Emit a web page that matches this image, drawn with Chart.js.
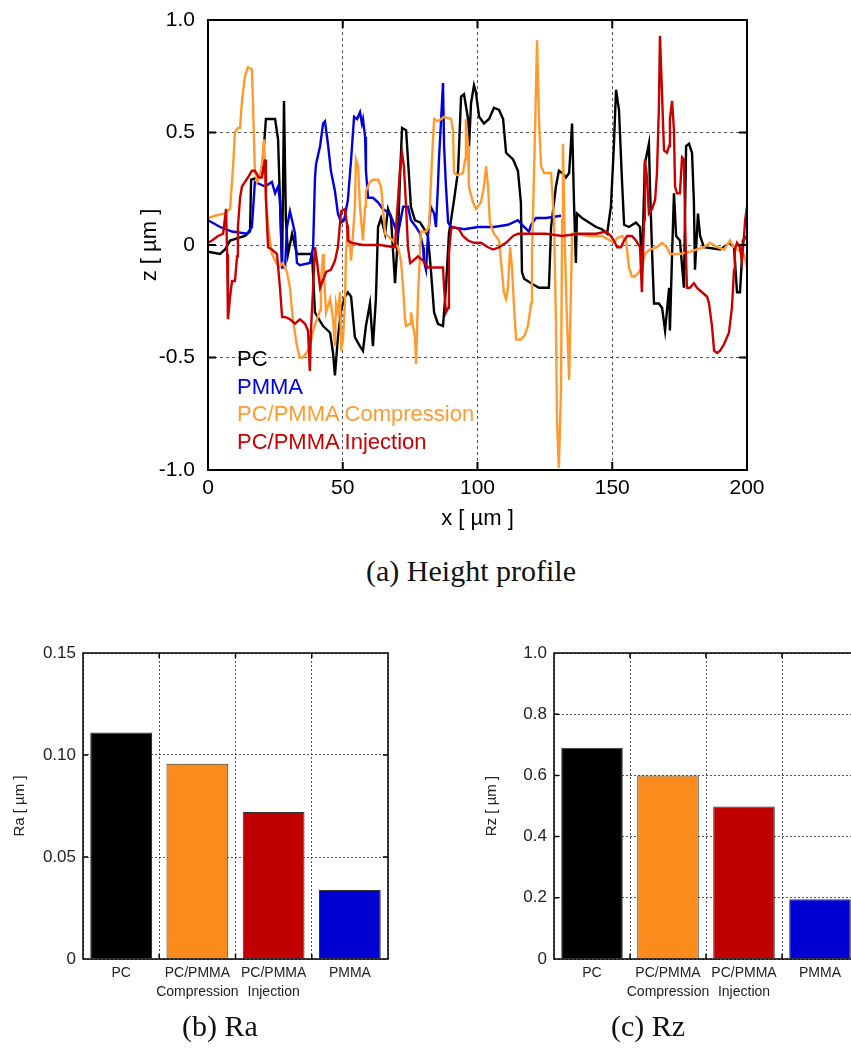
<!DOCTYPE html>
<html>
<head>
<meta charset="utf-8">
<script src="https://cdn.jsdelivr.net/npm/chart.js@4.4.0/dist/chart.umd.min.js"></script>
<style>
  html, body { margin: 0; padding: 0; background: #fff; width: 851px; height: 1048px; overflow: hidden; }
  canvas { position: absolute; }
  .cap { position: absolute; font-family: "Liberation Serif", "Times New Roman", serif; font-size: 30px; line-height: 33px; color: #111; text-align: center; white-space: nowrap; }
  .leg { position: absolute; left: 237px; top: 345px; font-family: "Liberation Sans", Arial, sans-serif; font-size: 22px; line-height: 27.7px; white-space: nowrap; }
</style>
</head>
<body>
<canvas id="profile" width="851" height="540" style="left:0;top:0"></canvas>
<div class="leg" id="legend"></div>
<div class="cap" style="left:271px;top:554px;width:400px">(a) Height profile</div>
<canvas id="raChart" width="420" height="380" style="left:0;top:630px"></canvas>
<canvas id="rzChart" width="460" height="380" style="left:430px;top:630px"></canvas>
<div class="cap" style="left:120px;top:1009px;width:200px">(b) Ra</div>
<div class="cap" style="left:548px;top:1009px;width:200px">(c) Rz</div>

<script>
// -----------------------------
// Data
// -----------------------------
const xTicks = [0, 50, 100, 150, 200];
const zTicks = [-1.0, -0.5, 0, 0.5, 1.0];

// PC
const pcX = [0,4.5,6.3,8.2,13.7,15.6,16.0,18.6,20.0,21.5,24.9,26.0,26.7,27.5,28.2,28.9,29.7,31.2,33.0,38.6,39.7,42.7,45.3,46.4,47.1,48.2,49.4,50.8,51.9,53.1,54.5,56.4,57.5,58.6,60.1,61.2,62.3,63.1,64.2,65.7,66.8,67.9,69.4,70.5,71.2,72.0,73.5,74.2,75.3,76.8,78.7,79.8,81.6,82.7,83.9,85.3,87.2,88.3,89.4,91.3,92.8,93.9,95.0,96.5,96.8,97.6,98.7,99.4,100.6,102.4,104.3,106.1,108.0,109.5,110.6,113.2,115.0,116.1,116.5,117.3,119.9,122.8,126.5,127.3,129.1,130.2,131.4,132.8,134.0,135.1,135.8,136.5,136.9,138.8,141.4,144.0,146.2,148.1,149.5,150.6,151.4,152.5,153.6,154.4,156.2,158.8,160.3,161.0,162.1,163.6,164.0,164.8,165.5,167.3,168.5,169.6,171.1,171.4,172.2,172.9,173.7,175.1,176.6,177.4,178.5,179.6,180.3,180.7,181.8,182.6,184.0,190.0,193.7,195.2,196.3,197.4,198.5,200];
const pcZ = [-0.03,-0.04,-0.02,0.02,0.04,0.06,0.29,0.30,0.32,0.56,0.56,0.47,0.20,-0.10,0.64,0.11,-0.04,0.05,-0.04,-0.04,-0.30,-0.36,-0.39,-0.48,-0.58,-0.41,-0.29,-0.23,-0.21,-0.23,-0.41,-0.45,-0.47,-0.36,-0.26,-0.45,-0.24,0.08,0.12,0.05,0.16,0.12,-0.17,0.04,0.29,0.52,0.51,0.38,0.17,0.11,0.10,0.08,0.04,-0.11,-0.30,-0.35,-0.36,-0.19,0.05,0.20,0.33,0.66,0.67,0.56,0.42,0.63,0.71,0.68,0.57,0.54,0.56,0.61,0.60,0.56,0.41,0.38,0.33,0.19,-0.12,-0.15,-0.17,-0.19,-0.19,0.08,0.26,0.33,0.32,0.30,0.32,0.54,0.19,-0.08,0.14,0.12,0.10,0.08,0.07,0.05,0.17,0.44,0.69,0.60,0.29,0.09,0.08,0.10,0.08,-0.11,0.36,0.45,0.26,-0.04,-0.26,-0.26,-0.28,-0.38,-0.19,-0.38,-0.04,0.23,0.04,0.02,-0.19,0.44,0.45,0.41,0.19,-0.11,0.14,0.04,-0.01,-0.02,0.01,-0.01,-0.21,-0.21,0.02,0.04];

// PMMA
const pmmaX = [0,4.5,8.9,14.5,16.3,17.4,21.2,23.7,24.9,26.0,26.7,27.5,28.6,29.3,30.4,31.2,32.3,33.0,34.1,37.8,39.0,39.7,40.1,41.6,42.7,43.4,44.5,45.6,47.1,48.2,49.4,50.5,51.9,53.1,54.2,55.3,56.4,57.1,57.5,58.3,58.6,59.4,61.2,63.1,64.9,67.5,69.4,70.5,72.4,74.2,75.3,77.2,78.7,79.8,80.1,80.9,81.6,82.7,83.9,84.6,85.3,85.7,86.5,87.2,87.6,88.3,89.1,90.2,95.0,100.2,106.1,111.3,115.0,117.3,119.1,119.9,121.7,125.4,131.0];
const pmmaZ = [0.11,0.08,0.06,0.05,0.08,0.28,0.26,0.28,0.23,0.26,0.20,-0.10,-0.10,0.08,0.15,0.11,0.05,-0.08,-0.09,-0.08,-0.01,0.30,0.36,0.44,0.54,0.55,0.45,0.33,0.24,0.14,0.10,0.11,0.20,0.38,0.57,0.56,0.59,0.54,0.56,0.48,0.33,0.21,0.21,0.19,0.16,0.14,0.08,0.05,0.17,0.17,0.11,0.08,0.05,-0.01,-0.07,-0.11,0.04,0.17,0.14,0.08,0.26,0.38,0.56,0.72,0.44,0.26,0.10,0.08,0.07,0.08,0.08,0.09,0.11,0.08,0.06,0.09,0.12,0.12,0.13];

// PC/PMMA Compression
const compX = [0,2.6,6.3,8.2,9.3,10.0,11.1,11.9,12.6,13.7,14.8,16.3,16.7,17.4,18.2,19.3,20.0,20.8,21.5,22.3,23.7,24.9,26.3,27.8,29.3,30.4,31.5,33.0,34.1,35.3,37.1,38.6,39.0,41.6,41.9,42.7,43.0,43.8,45.3,46.4,47.1,47.5,48.2,49.0,49.4,50.1,50.8,51.2,51.9,52.7,53.1,53.8,54.5,54.9,55.7,56.4,57.5,58.3,58.6,60.1,61.2,63.1,64.2,64.9,65.7,66.8,68.6,70.5,71.6,72.4,73.1,73.5,75.0,75.3,76.1,76.8,77.2,77.9,79.0,80.9,82.0,83.1,83.9,85.3,86.5,87.6,90.2,90.9,91.3,92.4,94.6,95.4,95.7,96.5,96.8,98.3,99.4,101.3,102.4,103.2,103.9,104.6,106.1,108.0,108.7,109.8,110.6,111.3,112.1,112.8,113.5,114.3,116.1,117.6,118.7,119.9,120.2,121.0,121.7,122.1,122.8,123.6,124.7,127.3,128.4,129.1,129.5,130.2,131.0,131.4,131.7,132.5,133.2,134.0,134.7,135.1,136.5,141.4,146.2,149.2,150.6,151.8,153.6,155.1,156.2,157.3,158.4,159.9,161.0,162.1,164.0,166.6,168.5,170.3,171.4,175.1,178.8,184.0,186.3,188.9,191.5,193.7,195.2,196.3,198.9,200];
const compZ = [0.12,0.13,0.14,0.16,0.35,0.50,0.52,0.52,0.64,0.75,0.79,0.78,0.63,0.33,0.28,0.31,0.36,0.47,0.21,0.08,-0.04,-0.07,-0.10,-0.08,-0.12,-0.19,-0.33,-0.45,-0.50,-0.50,-0.47,-0.41,-0.38,-0.29,-0.17,-0.04,-0.12,-0.30,-0.24,-0.33,-0.45,-0.26,-0.30,-0.21,-0.47,-0.42,-0.26,-0.04,0.08,-0.01,-0.07,0.05,0.17,0.38,0.35,0.17,0.02,0.17,0.24,0.28,0.29,0.29,0.26,0.17,0.05,0.04,0.02,-0.01,-0.07,-0.19,-0.33,-0.36,-0.35,-0.30,-0.36,-0.41,-0.53,-0.24,0.06,0.06,0.08,0.38,0.56,0.55,0.56,0.57,0.56,0.51,0.32,0.31,0.32,0.38,0.56,0.44,0.26,0.19,0.16,0.19,0.26,0.35,0.26,0.10,0.05,0.02,-0.07,-0.21,-0.24,-0.19,-0.01,-0.10,-0.26,-0.42,-0.42,-0.40,-0.36,-0.26,-0.04,0.33,0.70,0.91,0.56,0.35,0.32,0.32,0.11,-0.33,-0.78,-0.99,-0.63,0.11,0.45,-0.04,-0.33,-0.60,-0.19,0.05,0.05,0.04,0.04,0.02,0.01,0.03,0.04,0.02,-0.10,-0.14,-0.14,-0.12,-0.10,-0.04,-0.02,-0.01,0.01,-0.01,-0.04,-0.04,-0.03,-0.01,0.01,-0.01,-0.02,0.02,-0.01,-0.02,-0.04,-0.10];

// PC/PMMA Injection
const injX = [0,1.5,3.7,5.6,6.7,7.1,7.4,8.2,8.9,10.0,10.8,11.1,11.9,12.6,13.7,14.8,16.3,17.4,18.9,20.0,21.2,21.5,22.3,23.7,25.6,26.7,27.5,28.6,30.4,32.3,34.1,36.0,37.1,37.8,38.2,39.0,39.7,40.4,41.6,43.8,45.6,47.1,48.2,49.0,49.4,50.8,51.6,51.9,53.1,57.5,63.8,69.4,69.8,70.5,71.2,72.0,72.7,73.5,74.2,75.0,76.1,77.9,79.8,81.6,85.3,87.2,87.6,88.3,89.1,89.4,90.2,90.9,93.1,94.6,96.5,98.7,101.3,103.9,105.8,108.0,110.6,113.2,115.0,119.9,125.4,131.4,137.7,144.0,147.7,149.5,150.6,151.8,153.2,154.4,155.5,157.3,158.8,160.3,161.0,161.8,162.1,162.9,163.6,164.8,165.9,166.6,167.3,167.7,168.5,169.2,170.3,171.1,171.4,172.2,172.9,173.3,174.0,175.1,175.9,176.6,177.0,177.7,178.8,180.3,181.4,183.3,185.2,185.9,187.0,187.8,188.9,190.0,191.5,193.3,194.4,195.2,195.5,196.3,197.4,198.1,198.9,199.3,200];
const injZ = [0.01,0.02,0.04,0.05,0.16,-0.04,-0.33,-0.23,-0.16,-0.16,-0.05,0.08,0.21,0.26,0.28,0.30,0.33,0.33,0.30,0.30,0.38,0.20,-0.01,-0.02,-0.04,-0.19,-0.32,-0.32,-0.33,-0.35,-0.33,-0.35,-0.38,-0.56,-0.38,-0.19,-0.01,-0.07,-0.19,-0.12,-0.11,-0.07,-0.01,0.10,0.15,0.16,0.09,0.02,0.01,0.00,0.00,-0.01,0.08,0.20,0.33,0.41,0.35,0.17,-0.01,-0.08,-0.07,-0.05,-0.07,-0.10,-0.10,-0.10,-0.19,-0.30,-0.28,-0.04,0.07,0.08,0.07,0.04,0.02,0.01,0.01,-0.01,-0.02,-0.01,0.01,0.04,0.05,0.05,0.05,0.04,0.05,0.05,0.06,0.04,0.02,-0.01,-0.01,0.02,0.04,0.04,0.02,-0.01,-0.21,0.11,0.38,0.30,0.14,0.16,0.20,0.32,0.61,0.93,0.66,0.42,0.41,0.44,0.56,0.64,0.51,0.26,0.23,0.23,0.39,0.38,0.11,-0.19,-0.19,-0.17,-0.19,-0.21,-0.23,-0.26,-0.36,-0.47,-0.48,-0.47,-0.44,-0.39,-0.28,-0.11,-0.02,0.01,-0.01,-0.07,0.04,0.11,0.17];

const seriesNames = ["PC", "PMMA", "PC/PMMA Compression", "PC/PMMA Injection"];
const seriesColors = ["#000000", "#0000dc", "#ff9a2e", "#c80000"];

// Bar charts
const barLabels = [["PC"], ["PC/PMMA", "Compression"], ["PC/PMMA", "Injection"], ["PMMA"]];
const barColors = ["#000000", "#fa8c1e", "#c00000", "#0000d2"];
const raValues = [0.111, 0.0957, 0.0721, 0.0338];
const raTicks = [0, 0.05, 0.10, 0.15];
const raTickLabels = ["0", "0.05", "0.10", "0.15"];
const rzValues = [0.69, 0.60, 0.498, 0.195];
const rzTicks = [0, 0.2, 0.4, 0.6, 0.8, 1.0];
const rzTickLabels = ["0", "0.2", "0.4", "0.6", "0.8", "1.0"];

// -----------------------------
// Helpers
// -----------------------------
Chart.defaults.font.family = '"Liberation Sans", Arial, sans-serif';
Chart.defaults.color = "#000";

const toPoints = (xs, zs) => xs.map((x, i) => ({ x: x, y: zs[i] }));

// box around plot area + short inward tick marks on all four sides
const framePlugin = {
  id: "frame",
  afterDatasetsDraw(chart, args, opts) {
    const { ctx, chartArea: a } = chart;
    const L = opts.tickLen;
    ctx.save();
    ctx.strokeStyle = "#000";
    ctx.lineWidth = opts.tickWidth;
    ctx.beginPath();
    opts.xMarks(chart).forEach(px => {
      ctx.moveTo(px, a.top); ctx.lineTo(px, a.top + L);
      ctx.moveTo(px, a.bottom); ctx.lineTo(px, a.bottom - L);
    });
    opts.yMarks(chart).forEach(py => {
      ctx.moveTo(a.left, py); ctx.lineTo(a.left + L, py);
      ctx.moveTo(a.right, py); ctx.lineTo(a.right - L, py);
    });
    ctx.stroke();
    ctx.lineWidth = opts.boxWidth;
    ctx.strokeRect(a.left, a.top, a.right - a.left, a.bottom - a.top);
    ctx.restore();
  }
};

// -----------------------------
// (a) Height profile
// -----------------------------
const lineSets = [[pcX, pcZ], [pmmaX, pmmaZ], [compX, compZ], [injX, injZ]];

new Chart(document.getElementById("profile"), {
  type: "line",
  data: {
    datasets: lineSets.map((s, i) => ({
      label: seriesNames[i],
      data: toPoints(s[0], s[1]),
      borderColor: seriesColors[i],
      borderWidth: 2.4,
      pointRadius: 0,
      tension: 0,
      fill: false,
      order: 3 - i
    }))
  },
  options: {
    responsive: false,
    animation: false,
    layout: { padding: { left: 0, right: 104, top: 20, bottom: 0 } },
    plugins: {
      legend: { display: false },
      tooltip: { enabled: false },
      frame: {
        tickLen: 8, tickWidth: 2, boxWidth: 2,
        xMarks: c => [50, 100, 150].map(v => c.scales.x.getPixelForValue(v)),
        yMarks: c => [-0.5, 0, 0.5].map(v => c.scales.y.getPixelForValue(v))
      }
    },
    scales: {
      x: {
        type: "linear", min: 0, max: 200,
        afterBuildTicks: s => { s.ticks = xTicks.map(v => ({ value: v })); },
        afterFit: s => { s.height = 70; },
        ticks: { font: { size: 21 }, padding: 6, maxRotation: 0 },
        grid: { color: "#555", lineWidth: 1, drawTicks: false },
        border: { display: false, dash: [3, 3] },
        title: { display: true, text: "x [ µm ]", font: { size: 22 }, padding: { top: 0, bottom: 8 } }
      },
      y: {
        min: -1, max: 1,
        afterBuildTicks: s => { s.ticks = zTicks.map(v => ({ value: v })); },
        afterFit: s => { s.width = 208; s.paddingTop = 0; s.paddingBottom = 0; },
        ticks: { font: { size: 21 }, padding: 13, callback: v => (v === 0 ? "0" : v.toFixed(1)) },
        grid: { color: "#555", lineWidth: 1, drawTicks: false },
        border: { display: false, dash: [3, 3] },
        title: { display: true, text: "z [ µm ]", font: { size: 22 }, padding: { top: 137, bottom: 0 } }
      }
    }
  },
  plugins: [framePlugin]
});

// legend as text in the plot
const leg = document.getElementById("legend");
seriesNames.forEach((name, i) => {
  const d = document.createElement("div");
  d.textContent = name;
  d.style.color = seriesColors[i];
  leg.appendChild(d);
});

// -----------------------------
// (b) Ra and (c) Rz
// -----------------------------
function barChart(id, values, ticks, tickLabels, max, yWidth, yTitle, titlePad) {
  return new Chart(document.getElementById(id), {
    type: "bar",
    data: {
      labels: barLabels,
      datasets: [{
        data: values,
        backgroundColor: barColors,
        borderColor: "#333",
        borderWidth: 1,
        barPercentage: 0.81,
        categoryPercentage: 1.0
      }]
    },
    options: {
      responsive: false,
      animation: false,
      layout: { padding: { left: 0, right: 32, top: 23, bottom: 0 } },
      plugins: {
        legend: { display: false },
        tooltip: { enabled: false },
        frame: {
          tickLen: 5, tickWidth: 1.5, boxWidth: 1.5,
          xMarks: c => [0.5, 1.5, 2.5].map(v => c.scales.x.getPixelForValue(v)),
          yMarks: c => ticks.slice(1, -1).map(v => c.scales.y.getPixelForValue(v))
        }
      },
      scales: {
        x: {
          afterFit: s => { s.height = 51; },
          ticks: { font: { size: 14, lineHeight: 1.4 }, color: "#222", padding: 4, maxRotation: 0, autoSkip: false },
          grid: { color: "#555", lineWidth: 1, drawTicks: false, offset: true },
          border: { display: false, dash: [2, 2] }
        },
        y: {
          min: 0, max: max,
          afterBuildTicks: s => { s.ticks = ticks.map(v => ({ value: v })); },
          afterFit: s => { s.width = yWidth; s.paddingTop = 0; s.paddingBottom = 0; },
          ticks: { font: { size: 17 }, color: "#222", padding: 7, callback: (v, i) => tickLabels[i] },
          grid: { color: "#555", lineWidth: 1, drawTicks: false },
          border: { display: false, dash: [2, 2] },
          title: { display: true, text: yTitle, font: { size: 15 }, color: "#222", padding: { top: titlePad, bottom: 0 } }
        }
      }
    },
    plugins: [framePlugin]
  });
}

barChart("raChart", raValues, raTicks, raTickLabels, 0.15, 83, "Ra [ µm ]", 11);
barChart("rzChart", rzValues, rzTicks, rzTickLabels, 1.0, 124, "Rz [ µm ]", 53);
</script>
</body>
</html>
